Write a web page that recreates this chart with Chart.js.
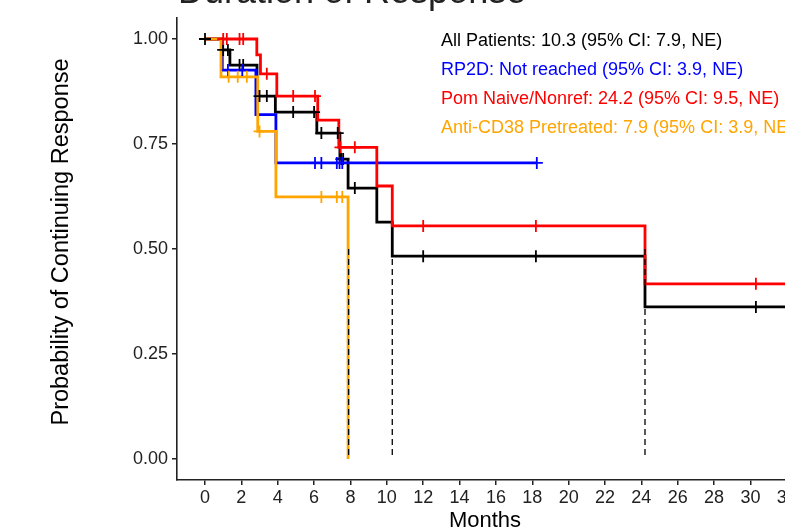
<!DOCTYPE html>
<html>
<head>
<meta charset="utf-8">
<script src="https://cdn.jsdelivr.net/npm/chart.js@4.4.1/dist/chart.umd.min.js"></script>
<style>
  body { margin: 0; overflow: hidden; background: #fff; }
  #wrap { position: absolute; left: 0; top: 0; width: 805px; height: 531px; }
</style>
</head>
<body>
<div id="wrap"><canvas id="kmChart" width="805" height="531"></canvas></div>
<script>
// step curves: event time (months) and survival after the event
const allTimes = [0, 0.93, 1.37, 2.86, 3.87, 6.15, 7.42, 7.87, 9.45, 10.3, 24.2, 33];
const allSurv  = [1.0, 0.974, 0.938, 0.864, 0.826, 0.776, 0.714, 0.645, 0.564, 0.483, 0.362, 0.362];
const allCens  = [0, 1.0, 1.26, 1.9, 2.1, 3.0, 3.4, 4.85, 6.0, 6.4, 7.3, 7.5, 7.6, 8.24, 12.0, 18.2, 30.3];

const rp2dTimes = [0, 0.95, 2.8, 3.9, 18.25];
const rp2dSurv  = [1.0, 0.926, 0.82, 0.705, 0.705];
const rp2dCens  = [1.26, 2.05, 6.05, 6.4, 7.25, 7.4, 7.55, 18.25];

const pomTimes = [0, 2.85, 3.05, 3.95, 6.2, 7.36, 9.45, 10.3, 24.2, 33];
const pomSurv  = [1.0, 0.962, 0.917, 0.864, 0.807, 0.742, 0.65, 0.555, 0.417, 0.417];
const pomCens  = [1.0, 1.2, 1.9, 2.1, 3.4, 4.85, 6.05, 7.45, 8.24, 12.0, 18.2, 30.3];

const cd38Times = [0, 0.88, 2.9, 3.9, 7.87];
const cd38Surv  = [1.0, 0.91, 0.78, 0.624, 0];
const cd38Cens  = [1.3, 1.8, 2.3, 3.0, 6.4, 7.25, 7.55];

const medianTimes = [7.9, 10.3, 24.2];

const xTicks = [0, 2, 4, 6, 8, 10, 12, 14, 16, 18, 20, 22, 24, 26, 28, 30, 32];
const yTicks = [0, 0.25, 0.5, 0.75, 1.0];

const legendLines = [
  { text: 'All Patients: 10.3 (95% CI: 7.9, NE)', color: '#000000' },
  { text: 'RP2D: Not reached (95% CI: 3.9, NE)', color: '#0000FF' },
  { text: 'Pom Naive/Nonref: 24.2 (95% CI: 9.5, NE)', color: '#FF0000' },
  { text: 'Anti-CD38 Pretreated: 7.9 (95% CI: 3.9, NE)', color: '#FFA500' }
];

const FONT = '"Liberation Sans", Arial, sans-serif';

function stepValue(times, surv, t) {
  let v = surv[0];
  for (let i = 0; i < times.length; i++) {
    if (times[i] <= t) v = surv[i];
  }
  return v;
}

function curve(times, surv, color, order) {
  return {
    type: 'line',
    data: times.map((t, i) => ({ x: t, y: surv[i] })),
    borderColor: color,
    borderWidth: 2.8,
    stepped: 'before',
    pointRadius: 0,
    fill: false,
    order: order
  };
}

function censors(cens, times, surv, color, order) {
  return {
    type: 'scatter',
    data: cens.map(t => ({ x: t, y: stepValue(times, surv, t) })),
    borderColor: color,
    backgroundColor: color,
    pointStyle: 'cross',
    pointRadius: 6,
    borderWidth: 1.8,
    showLine: false,
    order: order
  };
}

const datasets = [
  curve(allTimes, allSurv, '#000000', 10),
  curve(rp2dTimes, rp2dSurv, '#0000FF', 9),
  curve(pomTimes, pomSurv, '#FF0000', 8),
  curve(cd38Times, cd38Surv, '#FFA500', 7),
  censors(allCens, allTimes, allSurv, '#000000', 6),
  censors(rp2dCens, rp2dTimes, rp2dSurv, '#0000FF', 5),
  censors(pomCens, pomTimes, pomSurv, '#FF0000', 4),
  censors(cd38Cens, cd38Times, cd38Surv, '#FFA500', 3)
];

medianTimes.forEach(t => {
  datasets.push({
    type: 'line',
    data: [{ x: t, y: 0.5 }, { x: t, y: 0 }],
    borderColor: '#000000',
    borderWidth: 1.3,
    borderDash: [6, 4],
    pointRadius: 0,
    order: 1
  });
});

const textPlugin = {
  id: 'kmText',
  afterDraw(chart) {
    const c = chart.ctx;
    const area = chart.chartArea;
    c.save();
    c.fillStyle = '#222';
    c.font = '36px ' + FONT;
    c.textAlign = 'left';
    c.textBaseline = 'alphabetic';
    c.fillText('Duration of Response', 178, 3);

    c.font = '18px ' + FONT;
    legendLines.forEach((l, i) => {
      c.fillStyle = l.color;
      c.fillText(l.text, 441, 46 + i * 29);
    });

    c.fillStyle = '#000';
    c.font = '22px ' + FONT;
    c.textAlign = 'center';
    c.fillText('Months', (area.left + area.right) / 2, 527);

    c.font = '23.5px ' + FONT;
    c.translate(62, 242);
    c.rotate(-Math.PI / 2);
    c.textBaseline = 'middle';
    c.fillText('Probability of Continuing Response', 0, 0);
    c.restore();
  }
};

new Chart(document.getElementById('kmChart'), {
  data: { datasets: datasets },
  options: {
    responsive: false,
    animation: false,
    layout: { padding: { top: 18, right: 12, left: 0, bottom: 0 } },
    plugins: { legend: { display: false }, tooltip: { enabled: false } },
    scales: {
      x: {
        type: 'linear',
        min: -1.54,
        max: 32.34,
        afterBuildTicks: s => { s.ticks = xTicks.map(v => ({ value: v })); },
        afterFit: s => { s.height = 51; },
        ticks: {
          color: '#222',
          font: { size: 18, family: FONT },
          padding: 2,
          maxRotation: 0,
          autoSkip: false
        },
        grid: { display: true, drawOnChartArea: false, drawTicks: true, tickLength: 5, color: '#222', lineWidth: 1.5 },
        border: { display: true, color: '#222', width: 1.6 }
      },
      y: {
        type: 'linear',
        min: -0.05,
        max: 1.05,
        afterBuildTicks: s => { s.ticks = yTicks.map(v => ({ value: v })); },
        afterFit: s => { s.width = 177; },
        ticks: {
          color: '#222',
          font: { size: 18, family: FONT },
          padding: 4,
          callback: v => v.toFixed(2)
        },
        grid: { display: true, drawOnChartArea: false, drawTicks: true, tickLength: 5, color: '#222', lineWidth: 1.5 },
        border: { display: true, color: '#222', width: 1.6 }
      }
    }
  },
  plugins: [textPlugin]
});
</script>
</body>
</html>
